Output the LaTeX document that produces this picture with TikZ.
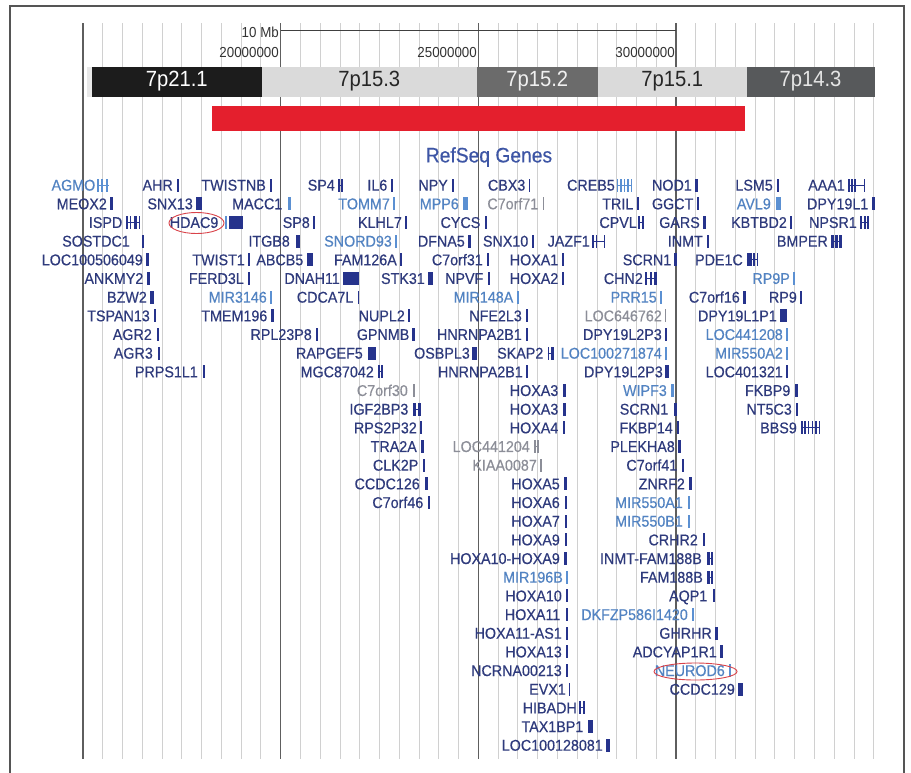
\documentclass[tikz,border=0pt]{standalone}
\usepackage{fontspec}
\newfontfamily\gfont[FakeStretch=0.917,FakeBold=0.4]{Liberation Sans}
\newfontfamily\bfontx[FakeStretch=0.92]{Liberation Sans}
\definecolor{gdark}{HTML}{2E3A7C}
\definecolor{gdarkbar}{HTML}{26338C}
\definecolor{gblue}{HTML}{5283C2}
\definecolor{gbluebar}{HTML}{5B90D2}
\definecolor{ggray}{HTML}{8C8E98}
\definecolor{gridthin}{HTML}{D0D0D0}
\definecolor{gridthick}{HTML}{5E5E5E}
\definecolor{framecol}{HTML}{555555}
\definecolor{redbar}{HTML}{E41F2D}
\definecolor{ellred}{HTML}{D9434A}
\definecolor{titleblue}{HTML}{3D55A5}
\definecolor{bandblack}{HTML}{1C1C1C}
\definecolor{bandlight}{HTML}{DADADA}
\definecolor{bandmid}{HTML}{6B6B6B}
\definecolor{banddark}{HTML}{57595B}
\tikzset{
  lbld/.style={font=\gfont\fontsize{15.6}{17}\selectfont, text=gdark, inner sep=0pt},
  lblb/.style={font=\gfont\fontsize{15.6}{17}\selectfont, text=gblue, inner sep=0pt},
  lblg/.style={font=\gfont\fontsize{15.6}{17}\selectfont, text=ggray, inner sep=0pt},
  glyd/.style={color=gdarkbar},
  glyb/.style={color=gbluebar},
  glyg/.style={color=ggray},
  band/.style={minimum height=30pt, inner sep=0pt, font=\bfontx\fontsize{22}{24}\selectfont},
  rulerlbl/.style={font=\bfontx\fontsize{14.5}{16}\selectfont, text=black!80, inner sep=0pt, anchor=base east},
  ringmark/.style={draw=ellred, line width=0.9pt}
}
\newcommand{\glab}[5]{\pgfmathsetmacro\gyc{185+(#2-1)*18.67}\node[lbl#4, anchor=base east] (#1) at (#3,{\gyc+5.6}) {#5};}
\newcommand{\gbar}[4]{\pgfmathsetmacro\gyc{185+(#1-1)*18.67}\fill[gly#4] (#2,{\gyc-6.5}) rectangle ++(#3,13);}
\newcommand{\gene}[7]{\glab{#1}{#2}{#3}{#6}{#7}\gbar{#2}{#4}{#5}{#6}}
\newcommand{\gexon}[5]{\pgfmathsetmacro\gyc{185+(#1-1)*18.67}\draw[gly#5, line width=0.9pt] (#2,\gyc) -- (#3,\gyc);
  \foreach \bx/\bw in {#4}{\fill[gly#5] (\bx,{\gyc-6.5}) rectangle ++(\bw,13);}}
\begin{document}
\begin{tikzpicture}[x=1pt,y=-1pt]
\useasboundingbox (0,0) rectangle (911,772);
\fill[white] (0,0) rectangle (911,772);
% grid
\foreach \k in {0,...,40}{\pgfmathsetmacro\gx{83+19.77*\k}\draw[gridthin, line width=1pt] (\gx,23) -- (\gx,758.5);}
\foreach \k in {0,10,20,30}{\pgfmathsetmacro\gx{83+19.77*\k}\draw[gridthick, line width=1.4pt] (\gx,23) -- (\gx,758.5);}
% frame
\draw[framecol, line width=1.5pt] (10,775) -- (10,6) -- (904,6) -- (904,775);
% ruler
\coordinate (rl) at (280.7,30.5);
\coordinate (rr) at (676.1,30.5);
\draw[black!75, line width=0.8pt] (rl) -- (rr);
\node[rulerlbl] (mb) at (279,37.5) {10 Mb};
\node[rulerlbl] (p20) at (279,57.5) {20000000};
\node[rulerlbl] (p25) at (477,57.5) {25000000};
\node[rulerlbl] (p30) at (675,57.5) {30000000};
% bands
\fill[black!9] (86.5,66.5) rectangle (874.5,96.5);
\node[band, fill=bandblack, text=white, minimum width=170.5pt] (b1) at (176.75,81.5) {7p21.1};
\node[band, fill=bandlight, text=black!85, minimum width=214.5pt] (b2) at (369.25,81.5) {7p15.3};
\node[band, fill=bandmid, text=white!94!black, minimum width=121.5pt] (b3) at (537.25,81.5) {7p15.2};
\node[band, fill=bandlight, text=black!85, minimum width=148.5pt] (b4) at (672.25,81.5) {7p15.1};
\node[band, fill=banddark, text=white!90!black, minimum width=128pt] (b5) at (810.5,81.5) {7p14.3};
% red region
\node[fill=redbar, minimum width=532.5pt, minimum height=24.5pt, inner sep=0pt] (region) at (478.25,118.25) {};
% title
\node[font=\gfont\fontsize{21}{23}\selectfont, text=titleblue, inner sep=0pt] (title) at (489,157) {RefSeq Genes};
% row 1
\glab{agmo}{1}{95.5}{b}{AGMO}\gexon{1}{97}{108.5}{97/1.5,101/1.5,105.5/2.5}{b}
\gene{ahr}{1}{173}{177}{2}{d}{AHR}
\gene{twistnb}{1}{266}{269.5}{2.5}{d}{TWISTNB}
\glab{sp4}{1}{335}{d}{SP4}\gexon{1}{338}{343}{338/1.8,341.2/1.8}{d}
\gene{il6}{1}{387.5}{391}{1.5}{d}{IL6}
\gene{npy}{1}{448}{451.5}{2.5}{d}{NPY}
\gene{cbx3}{1}{525.5}{528.5}{1.5}{d}{CBX3}
\glab{creb5}{1}{615}{d}{CREB5}\gexon{1}{616.5}{632}{616.5/1.2,620/1.5,623.5/1.5,627/1.5,630.5/1.5}{b}
\gene{nod1}{1}{692}{694.5}{3}{d}{NOD1}
\gene{lsm5}{1}{773}{776.5}{2}{d}{LSM5}
\glab{aaa1}{1}{845}{d}{AAA1}\gexon{1}{848}{865}{848/1.5,851/1.5,854/1.5,863.5/1.5}{d}
% row 2
\gene{meox2}{2}{107}{110}{3}{d}{MEOX2}
\gene{snx13}{2}{193}{196}{6}{d}{SNX13}
\glab{macc1}{2}{282.5}{d}{MACC1}\gbar{2}{287.5}{3}{b}
\gene{tomm7}{2}{390}{393}{2}{b}{TOMM7}
\gene{mpp6}{2}{459}{463}{5}{b}{MPP6}
\gene{c7orf71}{2}{538.5}{542.5}{1.5}{g}{C7orf71}
\gene{tril}{2}{633.5}{636.5}{2}{d}{TRIL}
\gene{ggct}{2}{693.5}{696.5}{2}{d}{GGCT}
\gene{avl9}{2}{771}{776}{4.5}{b}{AVL9}
\gene{dpy19l1}{2}{868.5}{871.5}{3}{d}{DPY19L1}
% row 3
\glab{ispd}{3}{122.5}{d}{ISPD}\gexon{3}{126}{140}{126/1.5,129.5/1.5,133.5/3,138.5/1.5}{d}
\glab{hdac9}{3}{218.5}{d}{HDAC9}\gbar{3}{224.5}{2}{b}\gbar{3}{228.5}{14.5}{d}
\gene{sp8}{3}{310}{313}{2}{d}{SP8}
\gene{klhl7}{3}{402}{405}{1.5}{d}{KLHL7}
\gene{cycs}{3}{480.5}{484.5}{2}{d}{CYCS}
\glab{cpvl}{3}{637}{d}{CPVL}\gexon{3}{638}{643.5}{638/2,641.5/2}{d}
\gene{gars}{3}{700}{703}{2.5}{d}{GARS}
\gene{kbtbd2}{3}{787}{790}{2}{d}{KBTBD2}
\glab{npsr1}{3}{857}{d}{NPSR1}\gexon{3}{860}{868.5}{860/2,863.5/2,867/1.5}{d}
% row 4
\gene{sostdc1}{4}{130}{141.5}{2}{d}{SOSTDC1}
\gene{itgb8}{4}{290}{296}{3.5}{d}{ITGB8}
\gene{snord93}{4}{392}{395}{1.5}{b}{SNORD93}
\gene{dfna5}{4}{465}{467.5}{3}{d}{DFNA5}
\gene{snx10}{4}{528.5}{531.5}{2}{d}{SNX10}
\glab{jazf1}{4}{590}{d}{JAZF1}\gexon{4}{592}{605}{592/2,595.5/1.5,603.5/1.5}{d}
\gene{inmt}{4}{703}{706.5}{2.5}{d}{INMT}
\glab{bmper}{4}{828}{d}{BMPER}\gexon{4}{831}{842}{831/3,835/2.5,839/3}{d}
% row 5
\gene{loc100506049}{5}{143}{146}{2.5}{d}{LOC100506049}
\gene{twist1}{5}{245}{248}{1.5}{d}{TWIST1}
\gene{abcb5}{5}{303.5}{307}{6}{d}{ABCB5}
\gene{fam126a}{5}{397}{400}{2}{d}{FAM126A}
\gene{c7orf31}{5}{483}{487}{2}{d}{C7orf31}
\gene{hoxa1}{5}{558.5}{562}{2}{d}{HOXA1}
\gene{scrn1a}{5}{671.5}{674}{3}{d}{SCRN1}
\glab{pde1c}{5}{743}{d}{PDE1C}\gexon{5}{746.5}{758}{746.5/5,753/1.5,756.5/1.5}{d}
% row 6
\gene{ankmy2}{6}{143.5}{147}{2.5}{d}{ANKMY2}
\gene{ferd3l}{6}{244}{248}{1.5}{d}{FERD3L}
\gene{dnah11}{6}{340}{343}{15.5}{d}{DNAH11}
\gene{stk31}{6}{425}{428}{5}{d}{STK31}
\gene{npvf}{6}{483.5}{488}{1.5}{d}{NPVF}
\gene{hoxa2}{6}{558.5}{562}{2}{d}{HOXA2}
\glab{chn2}{6}{643}{d}{CHN2}\gexon{6}{645}{657}{645/2,650/2,654/3}{d}
\gene{rp9p}{6}{790}{793}{2}{b}{RP9P}
% row 7
\gene{bzw2}{7}{147}{150}{3.5}{d}{BZW2}
\gene{mir3146}{7}{267}{270}{1.5}{b}{MIR3146}
\gene{cdca7l}{7}{353.5}{357.5}{1.5}{d}{CDCA7L}
\gene{mir148a}{7}{513.5}{517}{1.5}{b}{MIR148A}
\gene{prr15}{7}{657}{659.5}{2}{b}{PRR15}
\gene{c7orf16}{7}{740}{743}{2.5}{d}{C7orf16}
\gene{rp9}{7}{797}{800}{2}{d}{RP9}
% row 8
\gene{tspan13}{8}{150}{154}{2}{d}{TSPAN13}
\gene{tmem196}{8}{267.5}{271}{3}{d}{TMEM196}
\gene{nupl2}{8}{405}{408}{2}{d}{NUPL2}
\gene{nfe2l3}{8}{522}{525.5}{2}{d}{NFE2L3}
\gene{loc646762}{8}{662}{664.5}{1.5}{g}{LOC646762}
\gene{dpy19l1p1}{8}{777}{779.5}{7}{d}{DPY19L1P1}
% row 9
\gene{agr2}{9}{152}{156.5}{2}{d}{AGR2}
\gene{rpl23p8}{9}{312}{315.5}{2}{d}{RPL23P8}
\gene{gpnmb}{9}{409.5}{412}{2.5}{d}{GPNMB}
\gene{hnrnpaa}{9}{522}{525.5}{2}{d}{HNRNPA2B1}
\gene{dpyltpa}{9}{662}{664.5}{2}{d}{DPY19L2P3}
\gene{loc441208}{9}{783}{785.5}{2}{b}{LOC441208}
% row 10
\gene{agr3}{10}{153}{158}{2}{d}{AGR3}
\gene{rapgef5}{10}{363}{367.5}{8}{d}{RAPGEF5}
\gene{osbpl3}{10}{470}{472}{5}{d}{OSBPL3}
\glab{skap2}{10}{543.5}{d}{SKAP2}\gexon{10}{547.5}{553.5}{547.5/1.5,551/2.5}{d}
\gene{loc100271874}{10}{662}{664.5}{2}{b}{LOC100271874}
\gene{mir550a2}{10}{783}{785.5}{2}{b}{MIR550A2}
% row 11
\gene{prps1l1}{11}{198}{202.5}{2}{d}{PRPS1L1}
\glab{mgc87042}{11}{374}{d}{MGC87042}\gexon{11}{378}{382.5}{378/1.5,381/1.5}{d}
\gene{hnrnpab}{11}{523}{526}{2}{d}{HNRNPA2B1}
\gene{dpyltpb}{11}{663}{664.5}{4}{d}{DPY19L2P3}
\gene{loc401321}{11}{783}{786}{1.5}{d}{LOC401321}
% row 12
\gene{c7orf30}{12}{408}{413}{1.5}{g}{C7orf30}
\gene{hoxa3a}{12}{558.5}{563}{2.5}{d}{HOXA3}
\gene{wipf3}{12}{667}{671}{3}{b}{WIPF3}
\gene{fkbp9}{12}{790.5}{795}{2.5}{d}{FKBP9}
% row 13
\glab{igf2bp3}{13}{408.5}{d}{IGF2BP3}\gexon{13}{413}{420.5}{413/3,417.5/3}{d}
\gene{hoxa3b}{13}{558.5}{563}{2.5}{d}{HOXA3}
\gene{scrn1b}{13}{668.5}{674}{3}{d}{SCRN1}
\gene{nt5c3}{13}{792}{796}{2}{d}{NT5C3}
% row 14
\gene{rps2p32}{14}{417}{420}{2}{d}{RPS2P32}
\gene{hoxa4}{14}{558.5}{563}{1.5}{d}{HOXA4}
\gene{fkbp14}{14}{673}{677}{2}{d}{FKBP14}
\glab{bbs9}{14}{797}{d}{BBS9}\gexon{14}{801}{820}{801/1.5,804/1.5,807.5/1.5,811.5/1.5,815/1.5,818.5/1.5}{d}
% row 15
\gene{tra2a}{15}{417}{421}{3}{d}{TRA2A}
\glab{loc441204}{15}{530}{g}{LOC441204}\gexon{15}{534}{538.5}{534/1.5,537/1.5}{g}
\gene{plekha8}{15}{675}{678}{2.5}{d}{PLEKHA8}
% row 16
\gene{clk2p}{16}{418.5}{423}{2}{d}{CLK2P}
\gene{kiaa0087}{16}{537}{540}{1.5}{g}{KIAA0087}
\gene{c7orf41}{16}{677.5}{682}{2}{d}{C7orf41}
% row 17
\gene{ccdc126}{17}{420}{425}{2.5}{d}{CCDC126}
\gene{hoxa5}{17}{560}{564}{2.5}{d}{HOXA5}
\gene{znrf2}{17}{685}{689}{3}{d}{ZNRF2}
% row 18
\gene{c7orf46}{18}{423.5}{428}{2}{d}{C7orf46}
\gene{hoxa6}{18}{560}{565}{2}{d}{HOXA6}
\gene{mir550a1}{18}{683}{688}{1.5}{b}{MIR550A1}
% row 19
\gene{hoxa7}{19}{560}{565}{2}{d}{HOXA7}
\gene{mir550b1}{19}{683}{688}{1.5}{b}{MIR550B1}
% row 20
\gene{hoxa9}{20}{560}{565}{2}{d}{HOXA9}
\gene{crhr2}{20}{698}{703}{2}{d}{CRHR2}
% row 21
\gene{hoxatn}{21}{560}{564}{2.5}{d}{HOXA10-HOXA9}
\glab{inmtfam}{21}{702}{d}{INMT-FAM188B}\gexon{21}{707}{713}{707/2.5,710.5/2.5}{d}
% row 22
\gene{mir196b}{22}{563}{566}{1.5}{b}{MIR196B}
\glab{fam188b}{22}{703}{d}{FAM188B}\gexon{22}{707}{712.5}{707/2.5,710.5/2}{d}
% row 23
\gene{hoxa10}{23}{562}{566}{1.5}{d}{HOXA10}
\gene{aqp1}{23}{707.5}{712.5}{2}{d}{AQP1}
% row 24
\gene{hoxa11}{24}{560.5}{566}{1.5}{d}{HOXA11}
\gene{dkfzp}{24}{688}{692}{1.5}{b}{DKFZP586I1420}
% row 25
\gene{hoxa11as}{25}{562}{566}{1.5}{d}{HOXA11-AS1}
\gene{ghrhr}{25}{712}{715}{2.5}{d}{GHRHR}
% row 26
\gene{hoxa13}{26}{562}{566}{1.5}{d}{HOXA13}
\gene{adcyap1r1}{26}{717}{720}{2.5}{d}{ADCYAP1R1}
% row 27
\gene{ncrna}{27}{562}{566}{1.5}{d}{NCRNA00213}
\gene{neurod6}{27}{725}{729}{1.5}{b}{NEUROD6}
% row 28
\gene{evx1}{28}{566}{568.5}{1.5}{d}{EVX1}
\gene{ccdc129}{28}{735}{738}{5}{d}{CCDC129}
% row 29
\glab{hibadh}{29}{577}{d}{HIBADH}\gexon{29}{579}{585}{579/1.5,582.5/2.5}{d}
% row 30
\gene{tax1bp1}{30}{583.5}{588}{5}{d}{TAX1BP1}
% row 31
\gene{loc100128081}{31}{603}{606}{3.5}{d}{LOC100128081}
% highlight rings
\draw[ringmark] (196.5,223) ellipse [x radius=27.5, y radius=10.5];
\draw[ringmark] (695.5,671.5) ellipse [x radius=41.5, y radius=8.5];
\end{tikzpicture}
\end{document}
